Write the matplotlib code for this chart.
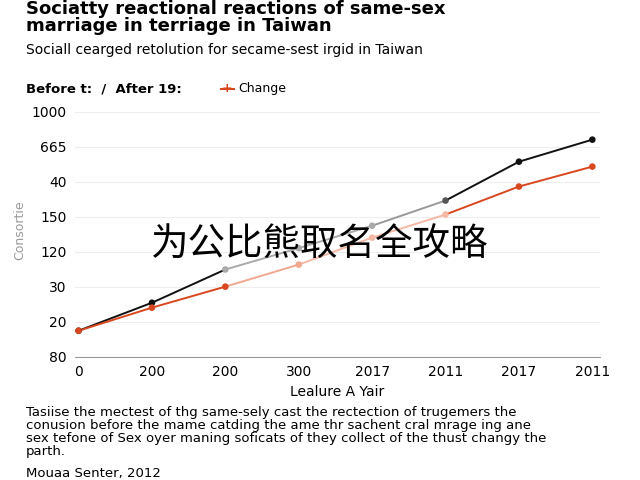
import matplotlib.pyplot as plt

plt.rcParams['font.family'] = ['DejaVu Sans', 'Noto Sans CJK SC']

# data (y values in tick-slot units)
x_labels = ['0', '200', '200', '300', '2017', '2011', '2017', '2011']
y_labels = ['80', '20', '30', '120', '150', '40', '665', '1000']
before_after = [0.74, 1.54, 2.49, 3.1, 3.74, 4.46, 5.57, 6.2]
change = [0.74, 1.4, 2.0, 2.63, 3.4, 4.06, 4.86, 5.43]
black_seg_colors = ['#111111', '#111111', '#aaaaaa', '#aaaaaa', '#999999', '#111111', '#111111']
orange_seg_colors = ['#d9471f', '#d9471f', '#f0a890', '#f4b8a4', '#f4b8a4', '#d9471f', '#d9471f']

fig = plt.figure(figsize=(6.4, 4.8), dpi=100)
ax = fig.add_axes([0.117, 0.257, 0.82, 0.525])
xs = list(range(len(x_labels)))

for i in range(len(xs) - 1):
    ax.plot(xs[i:i+2], before_after[i:i+2], color=black_seg_colors[i], lw=1.4)
    ax.plot(xs[i:i+2], change[i:i+2], color=orange_seg_colors[i], lw=1.4)
ax.scatter(xs, before_after, s=14, color=['#111111', '#111111', '#aaaaaa', '#aaaaaa', '#aaaaaa', '#555555', '#111111', '#111111'], zorder=3)
ax.scatter(xs, change, s=14, color=['#d9471f', '#d9471f', '#d9471f', '#f0a890', '#f4b8a4', '#f4b8a4', '#d9471f', '#d9471f'], zorder=3)

ax.set_xlim(-0.05, 7.1)
ax.set_ylim(0, 7.2)
ax.set_xticks(xs)
ax.set_xticklabels(x_labels, fontsize=10)
ax.set_yticks(range(len(y_labels)))
ax.set_yticklabels(y_labels, fontsize=10)
ax.tick_params(length=0, pad=6)
for s in ['top', 'right', 'left']:
    ax.spines[s].set_visible(False)
ax.spines['bottom'].set_color('#999999')
ax.grid(axis='y', color='#eeeeee', lw=0.8)
ax.set_xlabel('Lealure A Yair', fontsize=10)
ax.set_ylabel('Consortie', fontsize=9, color='#999999')

fig.text(0.04, 1.0, 'Sociatty reactional reactions of same-sex\nmarriage in terriage in Taiwan',
         fontsize=13, fontweight='bold', va='top', linespacing=0.95)
fig.text(0.04, 0.91, 'Sociall cearged retolution for secame-sest irgid in Taiwan', fontsize=10, va='top')
fig.text(0.04, 0.815, 'Before t:  /  After 19:', fontsize=9.5, fontweight='bold', va='center')
fig.lines.append(plt.Line2D([0.345, 0.365], [0.815, 0.815], color='#d9471f', lw=1.5, transform=fig.transFigure))
fig.text(0.355, 0.815, '+', color='#d9471f', fontsize=9, ha='center', va='center', fontweight='bold')
fig.text(0.373, 0.815, 'Change', fontsize=9, va='center')

fig.text(0.5, 0.49, '为公比熊取名全攻略', fontsize=27, ha='center', va='center',
         family=['Noto Sans CJK SC', 'DejaVu Sans'])

fig.text(0.04, 0.155, 'Tasiise the mectest of thg same-sely cast the rectection of trugemers the\n'
         'conusion before the mame catding the ame thr sachent cral mrage ing ane\n'
         'sex tefone of Sex oyer maning soficats of they collect of the thust changy the\n'
         'parth.', fontsize=9.5, va='top', linespacing=1.0)
fig.text(0.04, 0.0, 'Mouaa Senter, 2012', fontsize=9.5, va='bottom')

fig.savefig('out.png', dpi=100)
